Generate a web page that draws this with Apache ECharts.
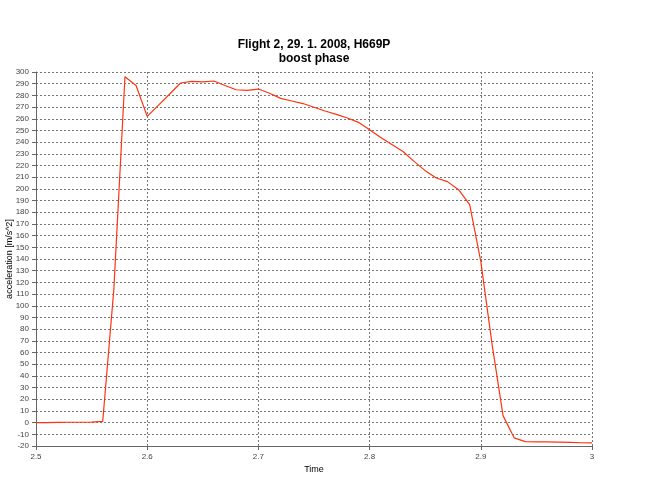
<!DOCTYPE html>
<html>
<head>
<meta charset="utf-8">
<script src="https://cdn.jsdelivr.net/npm/echarts@6/dist/echarts.min.js"></script>
<style>html,body{margin:0;padding:0;background:#fff;}#c{width:664px;height:483px;}</style>
</head>
<body>
<div id="c"></div>
<script>
var titleLine1 = "Flight 2, 29. 1. 2008, H669P";
var titleLine2 = "boost phase";
var xName = "Time";
var yName = "acceleration [m/s^2]";
var times = [2.50,2.51,2.52,2.53,2.54,2.55,2.56,2.57,2.58,2.59,2.60,2.61,2.62,2.63,2.64,2.65,2.66,2.67,2.68,2.69,2.70,2.71,2.72,2.73,2.74,2.75,2.76,2.77,2.78,2.79,2.80,2.81,2.82,2.83,2.84,2.85,2.86,2.87,2.88,2.89,2.90,2.91,2.92,2.93,2.94,2.95,2.96,2.97,2.98,2.99,3.00];
var accel = [0,0,0.2,0.3,0.3,0.4,1,114,296,288.5,262,271.5,281,290.6,292,291.5,292.3,288.5,284.8,284.3,285.4,281.8,277.4,275.2,273,269.8,266.6,263.7,260.6,256.9,250.6,244,238,232,223.5,215.6,209.3,206.2,199.3,186.5,138,68,6,-13,-16.3,-16.4,-16.5,-16.7,-16.9,-17.2,-17.4];
var series1 = times.map(function(t,i){return [t, accel[i]];});
var chart = echarts.init(document.getElementById('c'), null, {renderer:'canvas'});
var lab = {fontFamily:'Liberation Sans', fontSize:8, color:'#444'};
var tStyle = {fontFamily:'Liberation Sans', fontSize:12, fontWeight:'bold', color:'#000'};
chart.setOption({
  animation:false,
  backgroundColor:'#fff',
  title:[{text:titleLine1, left:314, top:39, textAlign:'center', padding:0, textStyle:tStyle},
         {text:titleLine2, left:314, top:53, textAlign:'center', padding:0, textStyle:tStyle}],
  grid:{left:36, right:72, top:72, bottom:37, containLabel:false, outerBoundsMode:'none'},
  xAxis:{type:'value', min:2.5, max:3, interval:0.1, name:xName, nameLocation:'middle', nameGap:19,
    nameMoveOverlap:false,
    nameTextStyle:{fontFamily:'Liberation Sans', fontSize:9, color:'#000'},
    axisLine:{onZero:false, lineStyle:{color:'#666', width:1}},
    axisTick:{show:true, length:4, inside:false, lineStyle:{color:'#666'}},
    axisLabel:Object.assign({margin:7, formatter:function(v){return String(Math.round(v*10)/10);}}, lab),
    splitLine:{show:true, lineStyle:{color:'#777', type:[2,2], width:1}}},
  yAxis:{type:'value', min:-20, max:300, interval:10, name:yName, nameLocation:'middle', nameGap:22, nameRotate:90,
    nameMoveOverlap:false,
    nameTextStyle:{fontFamily:'Liberation Sans', fontSize:9, color:'#000'},
    axisLine:{show:true, onZero:false, lineStyle:{color:'#666', width:1}},
    axisTick:{show:true, length:4, lineStyle:{color:'#666'}},
    axisLabel:Object.assign({margin:7}, lab),
    splitLine:{show:true, lineStyle:{color:'#777', type:[2,2], width:1}}},
  series:[{type:'line', data:series1, showSymbol:false, symbol:'none',
    lineStyle:{color:'#ff3311', width:1.2}}]
});
</script>
</body>
</html>
